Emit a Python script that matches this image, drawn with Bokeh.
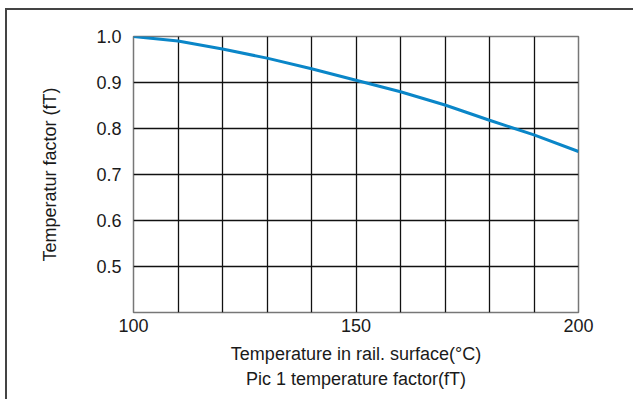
from bokeh.plotting import figure
from bokeh.models import FixedTicker, Range1d, Title, NumeralTickFormatter
from bokeh.embed import file_html
from bokeh.resources import INLINE

temps = [100, 110, 120, 130, 140, 150, 160, 170, 180, 190, 200]
factors = [1.0, 0.990, 0.973, 0.953, 0.930, 0.905, 0.880, 0.851, 0.818, 0.786, 0.750]
x_tick_labels = [100, 150, 200]
y_ticks = [0.5, 0.6, 0.7, 0.8, 0.9, 1.0]
x_grid = [100, 110, 120, 130, 140, 150, 160, 170, 180, 190, 200]

FONT = "Liberation Sans"

p = figure(width=628, height=391, output_backend="svg", toolbar_location=None,
           x_range=Range1d(100, 200), y_range=Range1d(0.4, 1.0),
           min_border_left=126, min_border_right=57, min_border_top=26, min_border_bottom=89)

p.styles = {"border-left": "2px solid #444444", "border-top": "2px solid #444444",
            "margin-left": "5px", "margin-top": "8px"}

p.background_fill_color = "white"
p.border_fill_color = "white"
p.outline_line_color = "#777777"
p.outline_line_width = 1.5

p.xaxis.ticker = FixedTicker(ticks=x_tick_labels)
p.yaxis.ticker = FixedTicker(ticks=y_ticks)
p.yaxis.formatter = NumeralTickFormatter(format="0.0")
p.xgrid.ticker = FixedTicker(ticks=x_grid)
p.ygrid.ticker = FixedTicker(ticks=y_ticks)
for g in (p.xgrid, p.ygrid):
    g.grid_line_color = "#111111"
    g.grid_line_width = 1.3

for ax in (p.xaxis, p.yaxis):
    ax.axis_line_color = None
    ax.major_tick_line_color = None
    ax.minor_tick_line_color = None
    ax.major_label_text_font = FONT
    ax.major_label_text_font_size = "18px"
    ax.major_label_text_color = "#1a1a1a"
    ax.axis_label_text_font = FONT
    ax.axis_label_text_font_size = "18px"
    ax.axis_label_text_font_style = "normal"
    ax.axis_label_text_color = "#1a1a1a"

p.yaxis.major_label_standoff = 6
p.xaxis.major_label_standoff = 0
p.yaxis.axis_label = "Temperatur factor (fT)"
p.yaxis.axis_label_standoff = 33
p.xaxis.axis_label = "Temperature in rail. surface(°C)"
p.xaxis.axis_label_standoff = 9

t = Title(text="Pic 1 temperature factor(fT)", align="center", text_font=FONT,
          text_font_size="18px", text_font_style="normal", text_color="#1a1a1a",
          standoff=0)
p.add_layout(t, "below")

p.line(temps, factors, line_color="#0a86c8", line_width=3)

open("out.html", "w").write(file_html(p, INLINE))
